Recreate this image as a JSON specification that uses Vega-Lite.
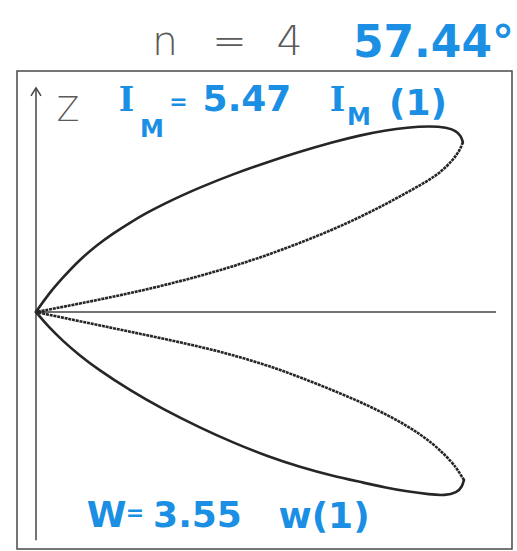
{
  "$schema": "https://vega.github.io/schema/vega-lite/v6.json",
  "width": 495,
  "height": 478,
  "autosize": {"type": "none"},
  "padding": {"left": 17, "top": 71, "right": 5, "bottom": 2},
  "background": "white",
  "config": {"view": {"stroke": "#4a4a4a", "strokeWidth": 1.5}},
  "datasets": {
    "lobes": [
      {"lobe": "upper", "edge": "outer", "i": 0, "x": 0, "y": 0},
      {"lobe": "upper", "edge": "outer", "i": 1, "x": 0.0261, "y": 0.0378},
      {"lobe": "upper", "edge": "outer", "i": 2, "x": 0.0587, "y": 0.0754},
      {"lobe": "upper", "edge": "outer", "i": 3, "x": 0.0957, "y": 0.1143},
      {"lobe": "upper", "edge": "outer", "i": 4, "x": 0.1326, "y": 0.1457},
      {"lobe": "upper", "edge": "outer", "i": 5, "x": 0.1674, "y": 0.1707},
      {"lobe": "upper", "edge": "outer", "i": 6, "x": 0.2043, "y": 0.1943},
      {"lobe": "upper", "edge": "outer", "i": 7, "x": 0.2413, "y": 0.2159},
      {"lobe": "upper", "edge": "outer", "i": 8, "x": 0.2761, "y": 0.2339},
      {"lobe": "upper", "edge": "outer", "i": 9, "x": 0.3152, "y": 0.2526},
      {"lobe": "upper", "edge": "outer", "i": 10, "x": 0.3565, "y": 0.2709},
      {"lobe": "upper", "edge": "outer", "i": 11, "x": 0.4283, "y": 0.2996},
      {"lobe": "upper", "edge": "outer", "i": 12, "x": 0.5022, "y": 0.3254},
      {"lobe": "upper", "edge": "outer", "i": 13, "x": 0.5739, "y": 0.3485},
      {"lobe": "upper", "edge": "outer", "i": 14, "x": 0.6457, "y": 0.3693},
      {"lobe": "upper", "edge": "outer", "i": 15, "x": 0.7043, "y": 0.3841},
      {"lobe": "upper", "edge": "outer", "i": 16, "x": 0.7587, "y": 0.3946},
      {"lobe": "upper", "edge": "outer", "i": 17, "x": 0.8065, "y": 0.4011},
      {"lobe": "upper", "edge": "outer", "i": 18, "x": 0.8565, "y": 0.4041},
      {"lobe": "upper", "edge": "outer", "i": 19, "x": 0.8935, "y": 0.4011},
      {"lobe": "upper", "edge": "outer", "i": 20, "x": 0.913, "y": 0.394},
      {"lobe": "upper", "edge": "outer", "i": 21, "x": 0.924, "y": 0.383},
      {"lobe": "upper", "edge": "outer", "i": 22, "x": 0.928, "y": 0.369},
      {"lobe": "upper", "edge": "inner", "i": 0, "x": 0.928, "y": 0.369},
      {"lobe": "upper", "edge": "inner", "i": 1, "x": 0.9217, "y": 0.3522},
      {"lobe": "upper", "edge": "inner", "i": 2, "x": 0.9065, "y": 0.3304},
      {"lobe": "upper", "edge": "inner", "i": 3, "x": 0.8783, "y": 0.3022},
      {"lobe": "upper", "edge": "inner", "i": 4, "x": 0.8457, "y": 0.2815},
      {"lobe": "upper", "edge": "inner", "i": 5, "x": 0.8065, "y": 0.2598},
      {"lobe": "upper", "edge": "inner", "i": 6, "x": 0.7587, "y": 0.2335},
      {"lobe": "upper", "edge": "inner", "i": 7, "x": 0.7043, "y": 0.2063},
      {"lobe": "upper", "edge": "inner", "i": 8, "x": 0.6457, "y": 0.1793},
      {"lobe": "upper", "edge": "inner", "i": 9, "x": 0.5739, "y": 0.15},
      {"lobe": "upper", "edge": "inner", "i": 10, "x": 0.5022, "y": 0.1235},
      {"lobe": "upper", "edge": "inner", "i": 11, "x": 0.4283, "y": 0.0991},
      {"lobe": "upper", "edge": "inner", "i": 12, "x": 0.3565, "y": 0.0783},
      {"lobe": "upper", "edge": "inner", "i": 13, "x": 0.2761, "y": 0.0574},
      {"lobe": "upper", "edge": "inner", "i": 14, "x": 0.2043, "y": 0.0409},
      {"lobe": "upper", "edge": "inner", "i": 15, "x": 0.1326, "y": 0.0259},
      {"lobe": "upper", "edge": "inner", "i": 16, "x": 0.0587, "y": 0.0111},
      {"lobe": "upper", "edge": "inner", "i": 17, "x": 0, "y": 0},
      {"lobe": "lower", "edge": "outer", "i": 0, "x": 0, "y": 0},
      {"lobe": "lower", "edge": "outer", "i": 1, "x": 0.0261, "y": -0.0313},
      {"lobe": "lower", "edge": "outer", "i": 2, "x": 0.0587, "y": -0.0633},
      {"lobe": "lower", "edge": "outer", "i": 3, "x": 0.0957, "y": -0.095},
      {"lobe": "lower", "edge": "outer", "i": 4, "x": 0.1326, "y": -0.123},
      {"lobe": "lower", "edge": "outer", "i": 5, "x": 0.2043, "y": -0.1704},
      {"lobe": "lower", "edge": "outer", "i": 6, "x": 0.2761, "y": -0.2113},
      {"lobe": "lower", "edge": "outer", "i": 7, "x": 0.3565, "y": -0.2515},
      {"lobe": "lower", "edge": "outer", "i": 8, "x": 0.4283, "y": -0.2839},
      {"lobe": "lower", "edge": "outer", "i": 9, "x": 0.5022, "y": -0.3135},
      {"lobe": "lower", "edge": "outer", "i": 10, "x": 0.5739, "y": -0.3372},
      {"lobe": "lower", "edge": "outer", "i": 11, "x": 0.6457, "y": -0.3565},
      {"lobe": "lower", "edge": "outer", "i": 12, "x": 0.7043, "y": -0.3693},
      {"lobe": "lower", "edge": "outer", "i": 13, "x": 0.7587, "y": -0.3815},
      {"lobe": "lower", "edge": "outer", "i": 14, "x": 0.8065, "y": -0.3902},
      {"lobe": "lower", "edge": "outer", "i": 15, "x": 0.8565, "y": -0.3967},
      {"lobe": "lower", "edge": "outer", "i": 16, "x": 0.8891, "y": -0.3989},
      {"lobe": "lower", "edge": "outer", "i": 17, "x": 0.9152, "y": -0.3924},
      {"lobe": "lower", "edge": "outer", "i": 18, "x": 0.9261, "y": -0.3804},
      {"lobe": "lower", "edge": "outer", "i": 19, "x": 0.9304, "y": -0.3652},
      {"lobe": "lower", "edge": "inner", "i": 0, "x": 0.9304, "y": -0.3652},
      {"lobe": "lower", "edge": "inner", "i": 1, "x": 0.9196, "y": -0.3478},
      {"lobe": "lower", "edge": "inner", "i": 2, "x": 0.9065, "y": -0.3283},
      {"lobe": "lower", "edge": "inner", "i": 3, "x": 0.863, "y": -0.2848},
      {"lobe": "lower", "edge": "inner", "i": 4, "x": 0.8065, "y": -0.2463},
      {"lobe": "lower", "edge": "inner", "i": 5, "x": 0.7326, "y": -0.2078},
      {"lobe": "lower", "edge": "inner", "i": 6, "x": 0.6609, "y": -0.1763},
      {"lobe": "lower", "edge": "inner", "i": 7, "x": 0.5739, "y": -0.1415},
      {"lobe": "lower", "edge": "inner", "i": 8, "x": 0.5022, "y": -0.1157},
      {"lobe": "lower", "edge": "inner", "i": 9, "x": 0.4283, "y": -0.0935},
      {"lobe": "lower", "edge": "inner", "i": 10, "x": 0.3565, "y": -0.0754},
      {"lobe": "lower", "edge": "inner", "i": 11, "x": 0.2761, "y": -0.0578},
      {"lobe": "lower", "edge": "inner", "i": 12, "x": 0.2043, "y": -0.0428},
      {"lobe": "lower", "edge": "inner", "i": 13, "x": 0.1326, "y": -0.0278},
      {"lobe": "lower", "edge": "inner", "i": 14, "x": 0.0587, "y": -0.0124},
      {"lobe": "lower", "edge": "inner", "i": 15, "x": 0, "y": 0}
    ],
    "axes": [
      {"x": 0, "y": -0.496, "x2": 0, "y2": 0.487},
      {"x": 0, "y": 0, "x2": 1.0, "y2": 0}
    ],
    "arrow": [{"x": 0, "y": 0.487}],
    "heading": [
      {"x": 0.2804, "y": 0.5587, "t": "n"},
      {"x": 0.4207, "y": 0.5587, "t": "="},
      {"x": 0.5511, "y": 0.5587, "t": "4"}
    ],
    "zlabel": [{"x": 0.0696, "y": 0.4152, "t": "Z"}],
    "angle": [{"x": 0.8641, "y": 0.5543, "t": "57.44°"}],
    "notes": [
      {"x": 0.4587, "y": 0.437, "t": "5.47"},
      {"x": 0.8304, "y": 0.4283, "t": "(1)"},
      {"x": 0.1533, "y": -0.4674, "t": "W"},
      {"x": 0.3511, "y": -0.4674, "t": "3.55"},
      {"x": 0.6261, "y": -0.4696, "t": "w(1)"}
    ],
    "current": [
      {"x": 0.1967, "y": 0.437, "t": "I"},
      {"x": 0.6554, "y": 0.437, "t": "I"}
    ],
    "subscripts": [
      {"x": 0.2522, "y": 0.3804, "t": "M"},
      {"x": 0.7022, "y": 0.4065, "t": "M"}
    ],
    "equals": [
      {"x": 0.3098, "y": 0.4413, "t": "="},
      {"x": 0.2152, "y": -0.4522, "t": "="}
    ]
  },
  "encoding": {
    "x": {"field": "x", "type": "quantitative", "scale": {"domain": [-0.0413, 1.0348], "nice": false, "zero": false}, "axis": null},
    "y": {"field": "y", "type": "quantitative", "scale": {"domain": [-0.5152, 0.5239], "nice": false, "zero": false}, "axis": null}
  },
  "layer": [
    {
      "data": {"name": "axes"},
      "mark": {"type": "rule", "stroke": "#444444", "strokeWidth": 1.5},
      "encoding": {"x2": {"field": "x2"}, "y2": {"field": "y2"}}
    },
    {
      "data": {"name": "arrow"},
      "mark": {"type": "point", "shape": "M-1,1.6L0,0L1,1.6", "size": 100, "filled": false, "stroke": "#444444", "strokeWidth": 1.5, "opacity": 1}
    },
    {
      "data": {"name": "lobes"},
      "transform": [{"filter": "datum.edge == 'outer'"}],
      "mark": {"type": "line", "interpolate": "basis", "stroke": "#262626", "strokeWidth": 2.6, "strokeCap": "round", "strokeJoin": "round"},
      "encoding": {"detail": {"field": "lobe"}, "order": {"field": "i", "type": "quantitative"}}
    },
    {
      "data": {"name": "lobes"},
      "transform": [{"filter": "datum.edge == 'inner'"}],
      "mark": {"type": "line", "interpolate": "basis", "stroke": "#262626", "strokeWidth": 2.6, "strokeDash": [3, 0.8], "strokeCap": "butt"},
      "encoding": {"detail": {"field": "lobe"}, "order": {"field": "i", "type": "quantitative"}}
    },
    {
      "data": {"name": "heading"},
      "mark": {"type": "text", "align": "center", "baseline": "alphabetic", "font": "DejaVu Sans", "fontWeight": 200, "fontSize": 41, "fill": "#5a5a5a"},
      "encoding": {"text": {"field": "t"}}
    },
    {
      "data": {"name": "zlabel"},
      "mark": {"type": "text", "align": "center", "baseline": "alphabetic", "font": "DejaVu Sans", "fontWeight": 200, "fontSize": 33, "fill": "#5a5a5a"},
      "encoding": {"text": {"field": "t"}}
    },
    {
      "data": {"name": "angle"},
      "mark": {"type": "text", "align": "center", "baseline": "alphabetic", "font": "DejaVu Sans", "fontWeight": "bold", "fontSize": 44, "fill": "#1a8fe3"},
      "encoding": {"text": {"field": "t"}}
    },
    {
      "data": {"name": "notes"},
      "mark": {"type": "text", "align": "center", "baseline": "alphabetic", "font": "DejaVu Sans", "fontWeight": "bold", "fontSize": 36, "fill": "#1a8fe3"},
      "encoding": {"text": {"field": "t"}}
    },
    {
      "data": {"name": "current"},
      "mark": {"type": "text", "align": "center", "baseline": "alphabetic", "font": "DejaVu Serif", "fontWeight": "bold", "fontSize": 33, "fill": "#1a8fe3"},
      "encoding": {"text": {"field": "t"}}
    },
    {
      "data": {"name": "subscripts"},
      "mark": {"type": "text", "align": "center", "baseline": "alphabetic", "font": "DejaVu Sans", "fontWeight": "bold", "fontSize": 24, "fill": "#1a8fe3"},
      "encoding": {"text": {"field": "t"}}
    },
    {
      "data": {"name": "equals"},
      "mark": {"type": "text", "align": "center", "baseline": "alphabetic", "font": "DejaVu Sans", "fontWeight": "bold", "fontSize": 22, "fill": "#1a8fe3"},
      "encoding": {"text": {"field": "t"}}
    }
  ]
}
